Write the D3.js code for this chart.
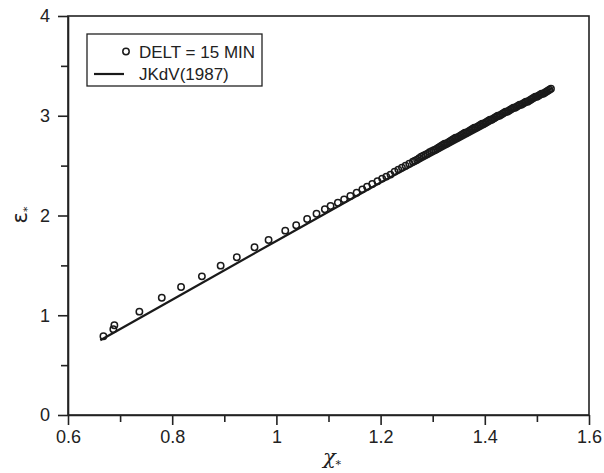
<!DOCTYPE html>
<html lang="en">
<head>
    <meta charset="UTF-8">
    <style>
        body { margin: 0; background: #fff; }
        svg { display: block; font-family: "Liberation Sans", Arial, sans-serif; }
        .axis path, .axis line { stroke: #222; stroke-width: 1.6px; }
        .axis text { font-size: 18px; fill: #222; font-family: "Liberation Sans", Arial, sans-serif; }
        .frame { fill: none; stroke: #222; stroke-width: 1.6px; }
        .obs { fill: none; stroke: #1a1a1a; stroke-width: 1.5px; }
        .fit { fill: none; stroke: #1a1a1a; stroke-width: 2.2px; }
    </style>
    <script src="https://d3js.org/d3.v7.min.js"></script>
</head>
<body>
<svg width="604" height="473"></svg>
<script>
    // tick values
    var xMajor = [0.6, 0.8, 1.0, 1.2, 1.4, 1.6];
    var xMinor = [0.7, 0.9, 1.1, 1.3, 1.5];
    var yMajor = [0, 1, 2, 3, 4];
    var yMinor = [0.5, 1.5, 2.5, 3.5];

    // DELT = 15 MIN (circles); they pile up past 1.25
    var obsX = [0.668, 0.687, 0.689, 0.737, 0.780, 0.817, 0.857, 0.893, 0.924, 0.958,
                0.985, 1.017, 1.038, 1.059, 1.077, 1.093, 1.104, 1.118, 1.130, 1.142,
                1.154, 1.165, 1.174, 1.184, 1.194, 1.203, 1.211, 1.219, 1.227, 1.234,
                1.241, 1.248, 1.255, 1.262, 1.266, 1.270, 1.274, 1.278, 1.282, 1.286,
                1.290, 1.294, 1.298,
                1.302, 1.305, 1.308, 1.311, 1.314, 1.317, 1.320, 1.323, 1.326, 1.329,
                1.332, 1.335, 1.338, 1.341, 1.344, 1.347, 1.350, 1.353, 1.356, 1.359,
                1.362, 1.365, 1.368, 1.371, 1.374, 1.377, 1.380, 1.383, 1.386, 1.389,
                1.392, 1.395, 1.398, 1.401, 1.404, 1.407, 1.410, 1.413, 1.416, 1.419,
                1.422, 1.425, 1.428, 1.431, 1.434, 1.437, 1.440, 1.443, 1.446, 1.449,
                1.452, 1.455, 1.458, 1.461, 1.464, 1.467, 1.470, 1.473, 1.476, 1.479,
                1.482, 1.485, 1.488, 1.491, 1.494, 1.497, 1.500, 1.503, 1.506, 1.509,
                1.512, 1.515, 1.518, 1.521, 1.524, 1.527];
    var obsY = [0.79, 0.86, 0.90, 1.036, 1.176, 1.283, 1.39, 1.497, 1.581, 1.681,
                1.754, 1.848, 1.902, 1.965, 2.018, 2.062, 2.095, 2.128, 2.162, 2.195,
                2.228, 2.262, 2.289, 2.316, 2.343, 2.37, 2.39, 2.41, 2.44, 2.46,
                2.48, 2.50, 2.52, 2.54, 2.55, 2.56, 2.575, 2.59, 2.60, 2.61,
                2.62, 2.635, 2.645,
                2.655, 2.66, 2.67, 2.68, 2.69, 2.70, 2.71, 2.72, 2.72, 2.73,
                2.74, 2.75, 2.76, 2.77, 2.78, 2.78, 2.79, 2.80, 2.81, 2.82,
                2.83, 2.83, 2.84, 2.85, 2.86, 2.87, 2.88, 2.88, 2.89, 2.90,
                2.91, 2.92, 2.92, 2.93, 2.94, 2.95, 2.96, 2.96, 2.97, 2.98,
                2.99, 3.00, 3.00, 3.01, 3.02, 3.03, 3.04, 3.04, 3.05, 3.06,
                3.07, 3.08, 3.08, 3.09, 3.10, 3.11, 3.11, 3.12, 3.13, 3.14,
                3.14, 3.15, 3.16, 3.17, 3.18, 3.19, 3.19, 3.20, 3.21, 3.22,
                3.22, 3.23, 3.24, 3.25, 3.26, 3.27];

    // JKdV(1987) curve
    var lineX = [0.662, 0.8, 1.0, 1.2, 1.4, 1.53];
    var lineY = [0.75, 1.155, 1.745, 2.33, 2.89, 3.28];

    var svg = d3.select("svg");
    var margin = {top: 16, right: 15, bottom: 58, left: 68};
    var width = +svg.attr("width") - margin.left - margin.right;
    var height = +svg.attr("height") - margin.top - margin.bottom;

    var g = svg.append("g").attr("transform", "translate(" + margin.left + "," + margin.top + ")");

    var x = d3.scaleLinear().domain([0.6, 1.6]).range([0, width]);
    var y = d3.scaleLinear().domain([0, 4]).range([height, 0]);

    // frame (top and right)
    g.append("rect").attr("class", "frame")
        .attr("x", 0).attr("y", 0).attr("width", width).attr("height", height);

    // axes, minor ticks first
    g.append("g").attr("class", "axis")
        .attr("transform", "translate(0," + height + ")")
        .call(d3.axisBottom(x).tickValues(xMinor).tickSize(7).tickFormat(""))
        .select(".domain").remove();
    g.append("g").attr("class", "axis")
        .attr("transform", "translate(0," + height + ")")
        .call(d3.axisBottom(x).tickValues(xMajor).tickSize(10).tickSizeOuter(0).tickPadding(5).tickFormat(d3.format("~g")));

    g.append("g").attr("class", "axis")
        .call(d3.axisLeft(y).tickValues(yMinor).tickSize(7).tickFormat(""))
        .select(".domain").remove();
    g.append("g").attr("class", "axis")
        .call(d3.axisLeft(y).tickValues(yMajor).tickSize(10).tickSizeOuter(0).tickPadding(8).tickFormat(d3.format("d")));

    // JKdV line
    var line = d3.line()
        .x(function(d) { return x(d[0]); })
        .y(function(d) { return y(d[1]); });
    g.append("path").attr("class", "fit")
        .attr("d", line(d3.zip(lineX, lineY)));

    // observations
    g.append("g").selectAll("circle")
        .data(d3.zip(obsX, obsY)).enter()
        .append("circle").attr("class", "obs")
        .attr("r", 3.2)
        .attr("cx", function(d) { return x(d[0]); })
        .attr("cy", function(d) { return y(d[1]); });

    // legend
    var lg = svg.append("g");
    lg.append("rect").attr("class", "frame").style("stroke-width", "1.3px")
        .attr("x", 87).attr("y", 34).attr("width", 175).attr("height", 52);
    lg.append("circle").attr("class", "obs").attr("r", 3.2).attr("cx", 126).attr("cy", 51.5);
    lg.append("line").attr("x1", 94).attr("x2", 124).attr("y1", 74).attr("y2", 74)
        .attr("stroke", "#1a1a1a").attr("stroke-width", 2.2);
    lg.append("text").attr("x", 139).attr("y", 57.5).attr("font-size", 17).attr("fill", "#222")
        .text("DELT = 15 MIN");
    lg.append("text").attr("x", 139).attr("y", 79.5).attr("font-size", 17).attr("fill", "#222")
        .text("JKdV(1987)");

    // axis titles
    var xt = svg.append("text").attr("x", 332).attr("y", 464).attr("text-anchor", "middle")
        .attr("font-size", 21).attr("fill", "#222").attr("font-family", "'DejaVu Serif', serif");
    xt.append("tspan").attr("font-style", "italic").text("χ");
    xt.append("tspan").attr("font-size", 11).attr("dy", 4).text("*");

    var yt = svg.append("text").attr("transform", "translate(27,215) rotate(-90)")
        .attr("text-anchor", "middle").attr("font-size", 21).attr("fill", "#222")
        .attr("font-family", "'DejaVu Sans', sans-serif");
    yt.append("tspan").text("ε");
    yt.append("tspan").attr("font-size", 11).attr("dy", 4).text("*");
</script>
</body>
</html>
